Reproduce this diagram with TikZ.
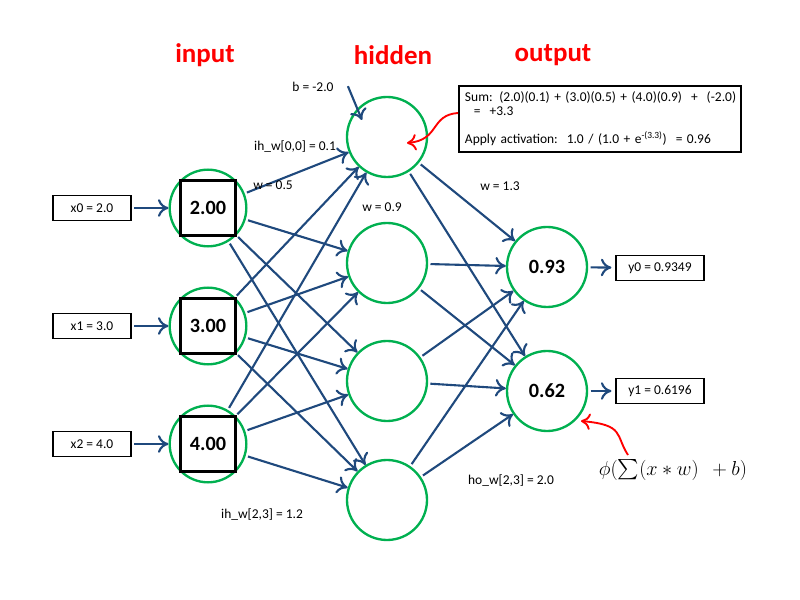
\documentclass[tikz,border=0pt]{standalone}
\usepackage{fontspec}
\setmainfont{Carlito}
\usepackage{amsmath}
\usetikzlibrary{arrows.meta}
\definecolor{edgeblue}{RGB}{31,73,125}
\definecolor{nodegreen}{RGB}{0,176,80}
\newcommand{\smalltext}{\fontsize{11.5}{14}\selectfont}
\begin{document}
\begin{tikzpicture}[
		x=0.03cm, y=-0.03cm,
		neuron/.style = {draw=nodegreen, circle, line width=2pt, minimum size=2.3cm, font=\bfseries\LARGE},
		val/.style = {draw, line width=2pt, minimum size=1.65cm, inner sep=0pt},
		io/.style = {draw, line width=1.5pt, minimum height=0.75cm, font=\smalltext},
		conn/.style = {edgeblue, line width=1.8pt, -{To[length=9pt,width=15pt]}, shorten <=2pt},
		layer/.style = {red, font=\bfseries\fontsize{23}{27}\selectfont},
		lbl/.style = {font=\smalltext}
	]
	\useasboundingbox (0,0) rectangle (800,600);
	% Layer titles.
	\node[layer] at (205,55) {input};
	\node[layer] at (393,55) {hidden};
	\node[layer] at (553,55) {output};
	% Input layer.
	\foreach \i/\y/\v/\x in {0/208/2.00/2.0, 1/326/3.00/3.0, 2/444/4.00/4.0} {
		\node[neuron] (in\i) at (208,\y) {};
		\node[val, font=\bfseries\LARGE] at (in\i) {\v};
		\node[io, minimum width=2.35cm] (x\i) at (92,\y) {x\i\ = \x};
		\draw[conn] (x\i) -- (in\i);
	}
	% Hidden layer.
	\foreach \j/\y in {0/137, 1/263, 2/381, 3/500}
		\node[neuron, minimum size=2.4cm] (h\j) at (387,\y) {};
	% Output layer.
	\node[neuron, minimum size=2.4cm] (o0) at (547,267) {0.93};
	\node[neuron, minimum size=2.4cm] (o1) at (547,391) {0.62};
	\node[io, minimum width=2.65cm] (y0) at (660,268) {y0 = 0.9349};
	\node[io, minimum width=2.65cm] (y1) at (660,391) {y1 = 0.6196};
	\draw[conn, shorten >=3pt] (o0) -- (y0);
	\draw[conn, shorten >=3pt] (o1) -- (y1);
	% Weights.
	\foreach \i in {0,1,2}
		\foreach \j in {0,1,2,3}
			\draw[conn] (in\i) -- (h\j);
	\foreach \j in {0,1,2,3}
		\foreach \k in {0,1}
			\draw[conn] (h\j) -- (o\k);
	% Bias.
	\node[lbl] (b) at (313,87) {b = -2.0};
	\coordinate (bs) at (347,84);
	\coordinate (bt) at (362,120);
	\draw[conn] (bs) -- (bt);
	% Labels.
	\node[lbl] at (295,147) {ih\_w[0,0] = 0.1};
	\node[lbl] at (273,185) {w = 0.5};
	\node[lbl] at (382,207) {w = 0.9};
	\node[lbl] at (500,186) {w = 1.3};
	\node[lbl] at (262,515) {ih\_w[2,3] = 1.2};
	\node[lbl] at (511,481) {ho\_w[2,3] = 2.0};
	% Sum box.
	\node[draw, line width=1.5pt, align=left, font=\smalltext, text width=8.1cm, inner sep=5pt] (sum) at (600,119)
		{\mbox{Sum: (2.0)(0.1) + (3.0)(0.5) + (4.0)(0.9)\ \ +\ \ (-2.0)}\\[-2pt]
		\ \ =\ \ +3.3\\[10pt]
		\mbox{Apply activation:\ \ 1.0 / (1.0 + e\textsuperscript{-(3.3)})\ \ = 0.96}};
	\coordinate (s1) at (458,113);
	\coordinate (t1) at (407,143);
	\draw[red, line width=1.6pt, -{To[length=8pt,width=14pt]}] (s1) .. controls (430,115) and (440,140) .. (t1);
	% Formula.
	\node[font=\LARGE] (phi) at (673,470) {$\phi(\sum(x * w)~~+b)$};
	\coordinate (s2) at (628,455);
	\coordinate (t2) at (581,421);
	\draw[red, line width=1.6pt, -{To[length=8pt,width=14pt]}] (s2) .. controls (615,435) and (625,425) .. (t2);
\end{tikzpicture}
\end{document}
